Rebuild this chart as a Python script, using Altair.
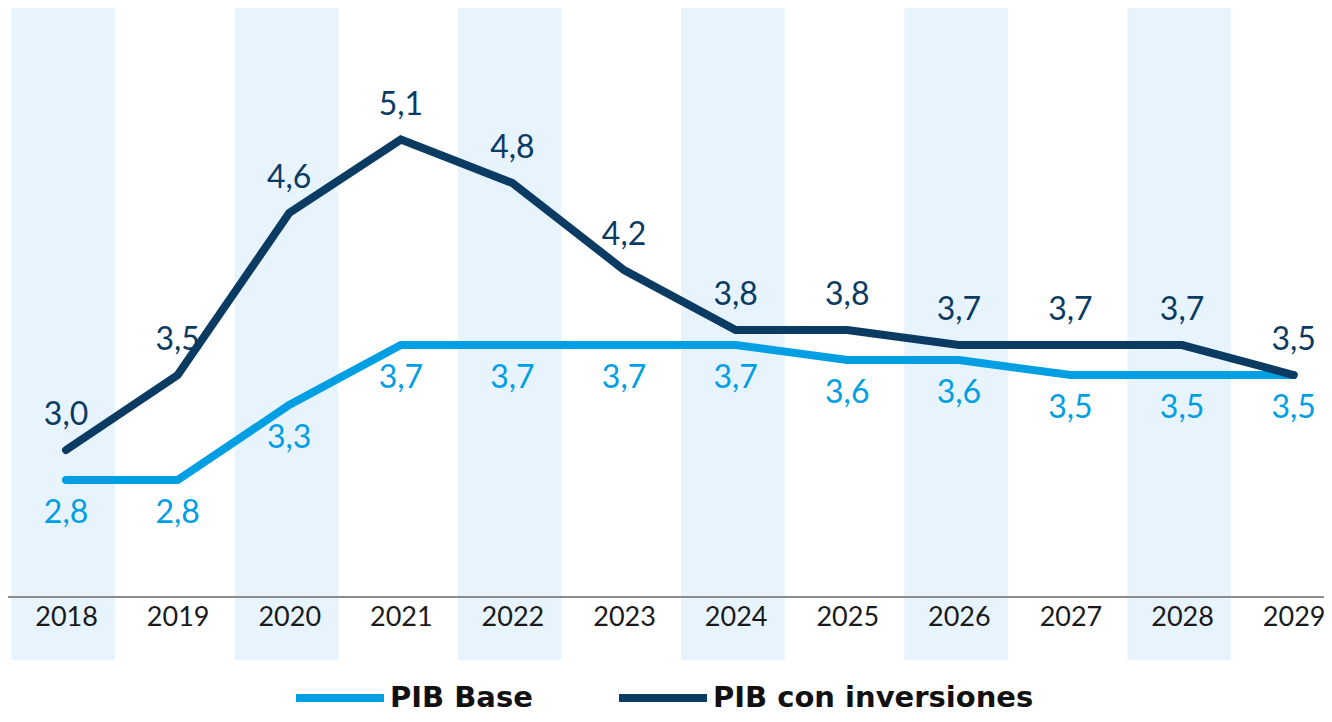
import altair as alt
import pandas as pd

years = [2018, 2019, 2020, 2021, 2022, 2023, 2024, 2025, 2026, 2027, 2028, 2029]
pib_base = [2.8, 2.8, 3.3, 3.7, 3.7, 3.7, 3.7, 3.6, 3.6, 3.5, 3.5, 3.5]
pib_inv = [3.0, 3.5, 4.58, 5.07, 4.78, 4.2, 3.8, 3.8, 3.7, 3.7, 3.7, 3.5]
series_names = ["PIB Base", "PIB con inversiones"]
series_colors = ["#009FE3", "#0B3B63"]
band_years = [2018, 2020, 2022, 2024, 2026, 2028]
axis_level = 2.02

rows = []
for y, v in zip(years, pib_base):
    rows.append({"year": y, "serie": series_names[0], "value": v})
for y, v in zip(years, pib_inv):
    rows.append({"year": y, "serie": series_names[1], "value": v})
df = pd.DataFrame(rows)
bands = pd.DataFrame({"start": [b - 0.49 for b in band_years], "end": [b + 0.44 for b in band_years]})

FONT = "Lato"
xscale = alt.Scale(domain=[2017.48, 2029.272], nice=False, zero=False)
yscale = alt.Scale(domain=[1.6, 5.947], nice=False, zero=False)

xaxis = alt.Axis(values=years, format="d", title=None, grid=False, domain=False, ticks=False,
                 labelFont=FONT, labelFontSize=27, labelColor="#1A1A1A", labelBaseline="middle",
                 labelPadding=0, offset=-43, labelFlush=False, labelOverlap=False, zindex=1)

band_layer = alt.Chart(bands).mark_rect(color="#E8F4FD").encode(
    x=alt.X("start:Q", scale=xscale, axis=xaxis),
    x2="end:Q",
)

axis_rule = alt.Chart(pd.DataFrame({"lvl": [axis_level]})).mark_rule(color="#8C8C8C", strokeWidth=2).encode(
    y=alt.Y("lvl:Q", scale=yscale, axis=None)
)

color = alt.Color(
    "serie:N",
    scale=alt.Scale(domain=series_names, range=series_colors),
    sort=series_names,
    legend=alt.Legend(
        title=None, orient="none", legendX=284, legendY=642, direction="horizontal",
        symbolType="stroke", symbolSize=7744, symbolStrokeWidth=8,
        labelFont="DejaVu Sans", labelFontSize=29, labelFontWeight="bold", labelColor="#111111",
        labelOffset=2, columnPadding=70, padding=0, labelLimit=400,
    ),
)

lines = alt.Chart(df).mark_line(strokeWidth=8, strokeCap="round", strokeJoin="miter").encode(
    x=alt.X("year:Q", scale=xscale),
    y=alt.Y("value:Q", scale=yscale, axis=None),
    color=color,
    order=alt.Order("year:Q"),
)

label_expr = "replace(format(datum.value, '.1f'), '.', ',')"
base_text = alt.Chart(df).transform_filter(alt.datum.serie == series_names[0]).transform_calculate(
    lab=label_expr).mark_text(font=FONT, fontSize=32, color=series_colors[0], dy=33, baseline="middle").encode(
    x=alt.X("year:Q", scale=xscale), y=alt.Y("value:Q", scale=yscale), text="lab:N")
inv_text = alt.Chart(df).transform_filter(alt.datum.serie == series_names[1]).transform_calculate(
    lab=label_expr).mark_text(font=FONT, fontSize=32, color=series_colors[1], dy=-35, baseline="middle").encode(
    x=alt.X("year:Q", scale=xscale), y=alt.Y("value:Q", scale=yscale), text="lab:N")

chart = alt.layer(band_layer, axis_rule, lines, base_text, inv_text).properties(
    width=1316, height=652,
    autosize=alt.AutoSizeParams(type="none"),
    padding={"top": 0, "left": 0, "right": 0, "bottom": 54},
).configure_view(stroke=None)

chart.save("out.html", embed_options={"renderer": "svg", "actions": False})
